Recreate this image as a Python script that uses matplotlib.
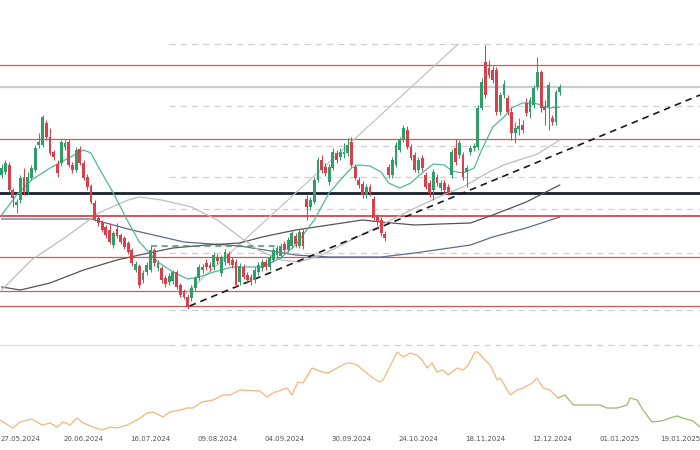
import matplotlib
matplotlib.use('Agg')
import matplotlib.pyplot as plt
import matplotlib.transforms as mtransforms
import numpy as np

# ---------------- data ----------------
opens = [225,228,235,210,195,200,223,208,222,230,
         255,255,277,263,248,236,237,253,258,235,
         230,251,237,223,214,197,182,178,173,170,
         155,171,165,162,157,150,130,134,120,128,
         130,150,132,132,122,118,119,128,115,108,
         103,102,112,122,130,137,135,133,143,127,
         138,146,140,138,118,133,125,123,120,128,
         132,138,133,140,145,144,156,150,154,164,
         154,168,201,193,198,220,240,233,218,232,
         247,243,246,247,258,233,220,216,205,213,
         201,183,180,166,233,225,235,250,260,270,
         253,245,230,242,225,217,210,223,212,217,
         213,225,252,245,245,228,248,252,253,292,
         338,332,330,330,288,305,302,288,267,271,
         275,297,288,295,313,328,293,293,282,278,
         308]
closes = [232,237,210,202,198,222,208,223,232,252,
          258,283,263,247,243,227,258,257,235,230,
          250,237,222,213,198,181,177,170,165,158,
          167,164,158,153,148,137,136,115,127,135,
          150,137,137,120,116,124,128,113,105,103,
          93,112,122,133,133,133,132,145,139,142,
          148,137,135,115,134,123,120,118,130,135,
          138,133,142,150,152,154,150,160,167,156,
          168,154,193,200,220,240,230,227,233,248,
          240,248,248,255,235,222,215,205,213,207,
          182,178,167,162,225,240,255,260,272,253,
          242,230,240,232,213,207,228,217,217,210,
          208,248,238,257,223,232,252,254,292,318,
          305,325,320,288,305,316,288,267,272,274,
          270,287,300,312,328,292,290,315,278,308,
          313]
highs = [236,240,238,212,201,225,232,228,235,255,
         267,285,280,272,250,240,260,260,261,238,
         253,254,240,226,216,200,184,180,175,177,
         169,177,167,164,159,152,139,136,130,138,
         154,152,140,134,125,127,130,130,117,111,
         106,115,124,136,136,141,138,148,146,145,
         151,149,143,141,137,136,128,126,133,138,
         141,141,145,153,155,157,159,163,170,167,
         171,171,205,203,223,243,245,237,236,252,
         250,252,257,262,263,236,223,219,216,216,
         204,186,183,169,236,243,258,263,275,274,
         256,248,243,245,228,220,231,226,220,220,
         216,251,261,260,248,235,255,257,295,322,
         355,340,334,333,308,320,305,292,278,282,
         280,302,303,315,343,330,300,318,285,310,
         316]
lows = [222,226,208,193,187,197,205,206,220,228,
        252,253,260,245,240,223,234,250,233,227,
        228,235,220,210,196,179,174,168,162,156,
        152,162,156,151,146,134,128,112,117,125,
        128,134,129,117,113,115,116,111,103,101,
        91,99,109,120,127,130,129,130,136,124,
        135,135,132,113,115,121,117,115,117,125,
        129,130,130,138,142,142,147,148,152,153,
        152,151,180,190,196,218,227,224,215,230,
        237,240,242,244,233,220,212,202,202,204,
        180,175,164,159,222,222,233,248,258,251,
        240,228,227,229,211,203,200,214,209,207,
        205,222,235,242,220,213,245,249,250,290,
        302,322,317,285,285,302,285,260,257,265,
        267,284,282,292,310,288,275,270,275,275,
        305]

# moving averages (bar index, value)
ma_fast_x = [0,4,8,13,18,22,24,26,30,34,37,42,46,50,53,57,62,70,75,79,84,88,91,94,96,99,102,104,107,110,112,116,119,121,124,127,129,132,135,137,140,143,145,147,150]
ma_fast_y = [185,205,220,232,242,250,247,233,207,178,158,138,128,121,123,128,133,133,142,155,180,207,220,232,235,234,228,217,212,217,224,236,235,229,227,232,250,273,283,292,297,297,295,292,293]
ma_mid_x = [0,8,18,26,34,37,43,51,58,64,69,75,80,86,94,102,110,118,124,131,135,139,144,150]
ma_mid_y = [110,140,165,187,200,203,200,193,180,163,150,140,138,145,160,175,190,204,213,228,235,240,246,260]
ma_slow_x = [0,5,13,22,31,37,46,55,64,70,79,88,97,102,111,118,126,132,141,150]
ma_slow_y = [113,110,117,130,140,145,152,155,157,163,170,175,180,178,175,176,177,185,198,215]
ma_long_x = [0,24,35,49,64,79,88,102,111,126,132,141,150]
ma_long_y = [181,181,170,158,154,145,143,143,147,155,163,172,183]

# levels
red_levels = [335, 261, 184, 143, 109, 94]
grey_level = 313
black_level = 207
fib_levels = [356, 294, 254, 223, 191, 147, 90, 55]
fib_start = 45
green_box_level = 154
green_box_span = (40, 74)
channel_line = ((48.5, 103), (122.7, 356))
trend_line = ((50.5, 94), (187.7, 305))

# lower indicator
ind_x = [-0.5,3,4.9,8.1,10.8,13,14.9,16.5,18.4,20.2,21.9,24.5,27,29.1,31,33.7,36.4,39.1,40.7,43.4,
         45.2,47.9,49.8,51.4,53.8,56.8,59.5,61.4,64.1,69.4,71.3,72.9,76.7,78,79.6,81,83.4,86.1,87.7,89.1,
         92.8,93.6,95.5,97.1,99.8,101.7,102.5,106.3,107.9,109.8,111.6,113,114.3,115.7,117,118.6,120,122.4,124,125.4,
         127.2,128,129.4,131.3,133.2,134,136.7,138.5,140.1,142.6,143.9,145.5,147.4,149.5]
ind_y = [20,12,18,21,15,17,13,18,15,22,17,13,10,13,12,15,20,27,28,23,
         28,30,32,32,38,40,45,45,50,49,43,47,52,45,58,57,72,68,67,70,
         77,77,75,70,62,58,60,88,83,87,85,80,72,77,68,70,65,72,70,75,
         88,88,82,75,60,62,45,50,52,57,62,52,50,42]
ind2_x = [149.5,151.4,153.6,156.3,160.8,162.7,165.4,168.1,168.9,170.8,172.4,174.8,177.5,179.6,181.5,183.1,185.8,187.7]
ind2_y = [42,45,35,35,35,32,32,35,42,40,30,18,19,22,24,22,19,13]

tick_pos = [4,22,40,58,76,94,112,130,148,166,184]
tick_labels = ['27.05.2024','20.06.2024','16.07.2024','09.08.2024','04.09.2024','30.09.2024',
               '24.10.2024','18.11.2024','12.12.2024','01.01.2025','19.01.2025']

# ---------------- drawing ----------------
GREEN = '#2f9e69'
RED = '#d8404e'
XL = (-0.457, 187.7)

fig = plt.figure(figsize=(7, 4.5), dpi=100)
fig.patch.set_facecolor('white')
ax = fig.add_axes([0, 103/450, 1, 347/450])
ax2 = fig.add_axes([0, 18/450, 1, 85/450])

for a in (ax, ax2):
    a.set_xlim(*XL)
    for s in a.spines.values():
        s.set_visible(False)
    a.set_yticks([])
ax.set_ylim(53, 400)
ax.set_xticks([])
ax2.set_ylim(8, 93)

# fib dashed levels
for lv in fib_levels:
    ax.plot([fib_start, XL[1]], [lv, lv], color='#cfcfcf', lw=0.9, ls=(0, (5, 4)), zorder=1)
ax.plot([XL[0], fib_start], [55, 55], color='#dddddd', lw=0.8, zorder=1)

# horizontal levels
for k, lv in enumerate(red_levels):
    ax.axhline(lv, color='#d05a5a' if k != 2 else '#c8383f', lw=0.9 if k != 2 else 1.2, zorder=1.5)
ax.axhline(grey_level, color='#cccccc', lw=1.6, zorder=1.5)
ax.axhline(black_level, color='#1b1f2a', lw=2.0, zorder=2)

# moving averages
ax.plot(ma_long_x, ma_long_y, color='#5d6b8f', lw=0.9, zorder=2.5)
ax.plot(ma_slow_x, ma_slow_y, color='#555555', lw=0.9, zorder=2.5)
ax.plot(ma_mid_x, ma_mid_y, color='#bdbdbd', lw=0.9, zorder=2.5)
ax.plot(ma_fast_x, ma_fast_y, color='#52b79c', lw=0.9, zorder=2.6)

# drawings
(x0, y0), (x1, y1) = channel_line
ax.plot([x0, x1], [y0, y1], color='#c4c4c4', lw=0.9, zorder=2.4)
(x0, y0), (x1, y1) = trend_line
ax.plot([x0, x1], [y0, y1], color='#1a1a1a', lw=1.2, ls=(0, (4, 3)), zorder=3)
ax.plot(list(green_box_span), [green_box_level]*2, color='#3a9d6a', lw=1.1, ls=(0, (4, 3)), zorder=3)

# candles
o = np.array(opens); c = np.array(closes); h = np.array(highs); l = np.array(lows)
idx = np.arange(len(o))
cols = np.where(c >= o, GREEN, RED)
ax.vlines(idx, l, h, colors=cols, lw=0.75, zorder=4)
body = np.maximum(np.abs(c - o), 1.0)
ax.bar(idx, body, bottom=np.minimum(o, c), width=0.76, color=cols, linewidth=0, zorder=5)

# lower panel
ax2.plot(ind_x, ind_y, color='#f2b67c', lw=0.9)
ax2.plot(ind2_x, ind2_y, color='#98bb70', lw=0.9)
ax2.set_xticks(tick_pos)
ax2.set_xticklabels(tick_labels, family=['Liberation Sans Narrow', 'DejaVu Sans'], fontsize=5.0, color='#555555')
ax2.tick_params(axis='x', length=0, pad=3)
lbls = ax2.get_xticklabels()
lbls[0].set_transform(lbls[0].get_transform() + mtransforms.ScaledTranslation(4/100, 0, fig.dpi_scale_trans))
lbls[-1].set_transform(lbls[-1].get_transform() + mtransforms.ScaledTranslation(-6/100, 0, fig.dpi_scale_trans))

fig.savefig('out.png', dpi=100, facecolor='white')
